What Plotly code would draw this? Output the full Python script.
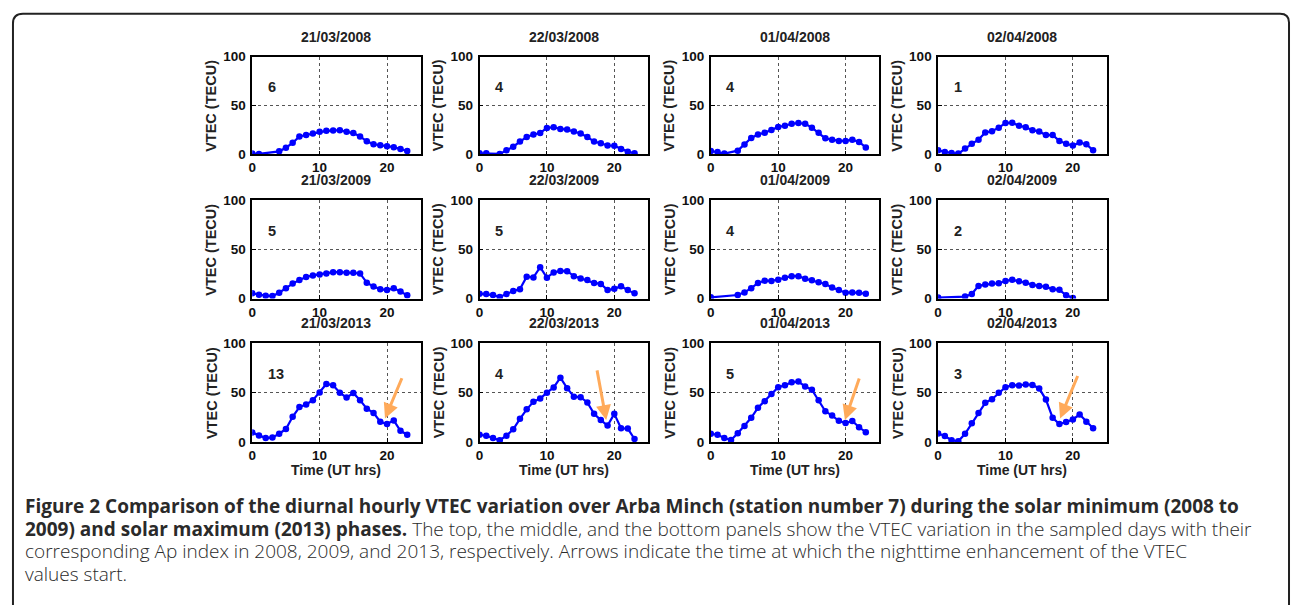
import plotly.graph_objects as go

W, H = 1292, 605

# ---------------- data ----------------
panel_titles = ["21/03/2008", "22/03/2008", "01/04/2008", "02/04/2008",
                "21/03/2009", "22/03/2009", "01/04/2009", "02/04/2009",
                "21/03/2013", "22/03/2013", "01/04/2013", "02/04/2013"]
ap_index = [6, 4, 4, 1, 5, 5, 4, 2, 13, 4, 5, 3]

full_hours = list(range(24))

hours_p1 = [0, 1] + list(range(4, 24))
vtec_p1 = [0.7, 0.3, 3, 6.7, 11.7, 18.3, 19.7, 21.3, 23, 24, 24.3, 24.7, 23, 21.7,
           18.3, 13.3, 10.3, 9.3, 8.3, 7.3, 5.3, 3.3]
hours_p2 = [0, 1] + list(range(3, 24))
vtec_p2 = [1, 1, 0.3, 4, 7.7, 13, 17.7, 20.3, 21.7, 27, 27.7, 26, 25.3, 23.3, 21.3,
           17.7, 13, 11.3, 9, 8.7, 5.3, 2.7, 1]
hours_p3 = [0, 1, 2] + list(range(4, 24))
vtec_p3 = [3.3, 2.3, 0.7, 3.7, 10, 16.7, 20.3, 22, 25, 28, 29.3, 31.3, 32, 31.3, 27.3,
           22, 16.3, 15, 13.7, 13.7, 15, 12.7, 7]
hours_p4 = full_hours
vtec_p4 = [4, 2.3, 1.3, 0.7, 6, 10.7, 15, 22.3, 23.7, 27.3, 32, 32.3, 29.3, 27.7, 24.7,
           23.3, 19.7, 19.7, 13.7, 10.7, 9, 12, 10.3, 4]
hours_p5 = full_hours
vtec_p5 = [5.3, 4, 3, 2.6, 6, 10.6, 15.2, 18.9, 21.9, 23.5, 24.5, 25.5, 26.8, 26.8, 26.2,
           26.2, 25.5, 16.2, 12.3, 9.6, 8.6, 10.6, 7.3, 3.3]
hours_p6 = full_hours
vtec_p6 = [5, 4.6, 3.6, 1.7, 4.6, 7.6, 9.6, 22.2, 21.5, 31.8, 21.2, 26.5, 28.1, 27.8, 22.8,
           20.5, 18.9, 15.9, 14.9, 8.6, 9.9, 12.6, 8.6, 5.3]
hours_p7 = [0] + list(range(4, 24))
vtec_p7 = [1.3, 3.6, 6.3, 10.6, 15.9, 18.2, 17.9, 19.2, 21.2, 22.8, 22.8, 20.2, 18.5, 16.6,
           14.9, 11.3, 8.6, 6, 6.3, 6, 5]
hours_p8 = [0] + list(range(4, 21))
vtec_p8 = [1, 2, 4.6, 12.9, 14.2, 15.2, 15.6, 17.9, 19.2, 17.5, 16.2, 13.9, 12.9, 11.9,
           9.6, 8.9, 3.3, 0.7]
hours_p9 = full_hours
vtec_p9 = [9.6, 6.6, 4, 4.6, 8.3, 13.2, 25.5, 35.4, 38.1, 42.4, 50.3, 58.9, 57.6, 50, 45,
           49.7, 42.4, 33.8, 29.5, 20.5, 18.2, 21.9, 11.3, 7.3]
hours_p10 = full_hours
vtec_p10 = [7.3, 6.3, 4, 1.7, 6.3, 12.9, 23.5, 33.1, 40.7, 44, 50, 55.3, 65.2, 54.6, 46,
            45.4, 40.1, 28.5, 22.2, 16.6, 28.5, 13.9, 13.6, 3]
hours_p11 = full_hours
vtec_p11 = [8.3, 7.3, 4, 2, 8.9, 16.2, 24.5, 34.8, 41.4, 48.7, 55.6, 57.6, 60.6, 61.3, 56.3,
            53, 42.4, 31.1, 26.8, 21.5, 19.2, 21.2, 14.9, 9.9]
hours_p12 = full_hours
vtec_p12 = [8.6, 6, 1.7, 0.7, 8.3, 18.9, 29.5, 39.7, 43.4, 50, 55.6, 57.6, 57.3, 58.3, 57.9,
            54.3, 43, 24.5, 18.2, 20.2, 22.8, 27.8, 20.5, 13.9]

hours_all = [hours_p1, hours_p2, hours_p3, hours_p4, hours_p5, hours_p6,
             hours_p7, hours_p8, hours_p9, hours_p10, hours_p11, hours_p12]
vtec_all = [vtec_p1, vtec_p2, vtec_p3, vtec_p4, vtec_p5, vtec_p6,
            vtec_p7, vtec_p8, vtec_p9, vtec_p10, vtec_p11, vtec_p12]

# arrows (bottom row): tail and head in data units
arrow_panels = [9, 10, 11, 12]
arrow_tail_x = [22.3, 17.4, 22.1, 20.8]
arrow_tail_y = [66.2, 74.2, 65.9, 68.5]
arrow_head_x = [19.7, 18.8, 19.9, 18.1]
arrow_head_y = [23.8, 22.2, 22.2, 23.8]

x_ticks = [0, 10, 20]
y_ticks = [0, 50, 100]
x_label = "Time (UT hrs)"
y_label = "VTEC (TECU)"

caption_lines = [
    "<b>Figure 2 Comparison of the diurnal hourly VTEC variation over Arba Minch (station number 7) during the solar minimum (2008 to</b>",
    "<b>2009) and solar maximum (2013) phases.</b> The top, the middle, and the bottom panels show the VTEC variation in the sampled days with their",
    "corresponding Ap index in 2008, 2009, and 2013, respectively. Arrows indicate the time at which the nighttime enhancement of the VTEC",
    "values start.",
]

# ---------------- layout geometry (pixels) ----------------
col_px = [(249, 418), (477, 646), (709, 878), (937, 1106)]
row_px = [(51, 151), (198, 299), (345, 446)]
title_y_px = [31, 177, 324]


def px_x(p):
    return p / W


def px_y(p):
    return 1 - p / H


fig = go.Figure()
annotations = []
FONT = "Liberation Sans, Arial, sans-serif"
axis_font = dict(family=FONT, size=13.5, color="#111111", weight="bold")

for i in range(12):
    r, c = divmod(i, 4)
    n = i + 1
    xa = "x" if n == 1 else f"x{n}"
    ya = "y" if n == 1 else f"y{n}"
    fig.add_trace(go.Scatter(
        x=hours_all[i], y=vtec_all[i], xaxis=xa, yaxis=ya,
        mode="lines+markers",
        line=dict(color="#0000FF", width=2.2),
        marker=dict(color="#0000FF", size=6.5),
        showlegend=False, hoverinfo="x+y"))
    x0, x1 = col_px[c]
    y0, y1 = row_px[r]
    common = dict(showline=True, linecolor="black", linewidth=1.5, mirror=True,
                  ticks="inside", ticklen=4, tickcolor="black",
                  showgrid=True, gridcolor="#555555", gridwidth=1, griddash="dot",
                  zeroline=False, tickfont=axis_font, fixedrange=True)
    fig.update_layout(**{
        ("xaxis" if n == 1 else f"xaxis{n}"): dict(
            domain=[px_x(x0), px_x(x1)], range=[0, 25], tickvals=x_ticks,
            anchor=ya, ticklabelstandoff=0, **common),
        ("yaxis" if n == 1 else f"yaxis{n}"): dict(
            domain=[px_y(y1), px_y(y0)], range=[0, 100], tickvals=y_ticks,
            anchor=xa, ticklabelstandoff=2, **common),
    })
    # title
    annotations.append(dict(text=panel_titles[i], x=px_x((x0 + x1) / 2), y=px_y(title_y_px[r]),
                            xref="paper", yref="paper", showarrow=False,
                            xanchor="center", yanchor="middle",
                            font=dict(family=FONT, size=14, color="#222222", weight="bold")))
    # y label
    annotations.append(dict(text=y_label, x=px_x(x0 - 41), y=px_y((y0 + y1) / 2),
                            xref="paper", yref="paper", showarrow=False, textangle=-90,
                            xanchor="center", yanchor="middle",
                            font=dict(family=FONT, size=14.5, color="#222222", weight="bold")))
    # Ap index label
    annotations.append(dict(text=str(ap_index[i]), x=2, y=69, xref=xa, yref=ya,
                            showarrow=False, xanchor="left", yanchor="middle",
                            font=dict(family=FONT, size=14.5, color="#222222", weight="bold")))
    if r == 2:
        annotations.append(dict(text=x_label, x=px_x((x0 + x1) / 2), y=px_y(475),
                                xref="paper", yref="paper", showarrow=False,
                                xanchor="center", yanchor="middle",
                                font=dict(family=FONT, size=14, color="#222222", weight="bold")))

for k, pn in enumerate(arrow_panels):
    xa = f"x{pn}"
    ya = f"y{pn}"
    annotations.append(dict(x=arrow_head_x[k], y=arrow_head_y[k], xref=xa, yref=ya,
                            ax=arrow_tail_x[k], ay=arrow_tail_y[k], axref=xa, ayref=ya,
                            showarrow=True, arrowhead=2, arrowsize=1, arrowwidth=3,
                            arrowcolor="#FFAA5A", text=""))

cap_y = [512, 535, 558, 581]
for k, line in enumerate(caption_lines):
    annotations.append(dict(text=line, x=px_x(19), y=px_y(cap_y[k]), xref="paper", yref="paper",
                            showarrow=False, xanchor="left", yanchor="middle", align="left",
                            font=dict(family="Open Sans, Noto Sans, sans-serif", size=19,
                                      color="#2a2a2a", weight=300)))

# rounded frame around the figure
frame_path = (f"M {px_x(9)},{px_y(620)} L {px_x(9)},{px_y(17)} "
              f"Q {px_x(9)},{px_y(7)} {px_x(19)},{px_y(7)} "
              f"L {px_x(1280)},{px_y(7)} Q {px_x(1289)},{px_y(7)} {px_x(1289)},{px_y(16)} "
              f"L {px_x(1289)},{px_y(620)}")

fig.update_layout(
    width=W, height=H,
    margin=dict(l=0, r=0, t=0, b=0),
    paper_bgcolor="white", plot_bgcolor="white",
    annotations=annotations,
    shapes=[dict(type="path", path=frame_path, xref="paper", yref="paper",
                 line=dict(color="#222222", width=2))],
)

fig.write_html("out.html", config={"displayModeBar": False},
               post_script="document.body.style.margin='0';document.body.style.overflow='hidden';")
